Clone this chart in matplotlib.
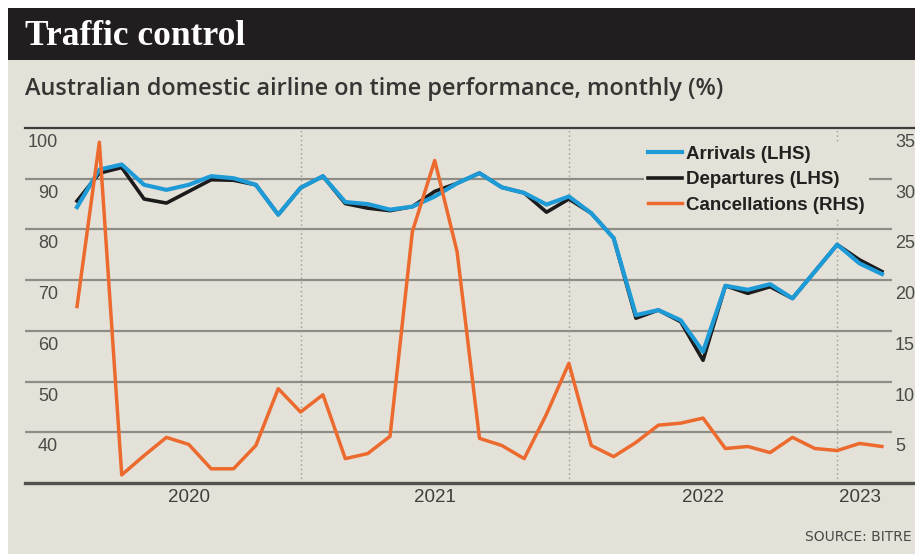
import matplotlib
matplotlib.use("Agg")
import matplotlib.pyplot as plt
import matplotlib.transforms as mtransforms
from matplotlib import font_manager
from matplotlib.patches import Rectangle
from matplotlib.lines import Line2D
import pandas as pd

# ---- data -------------------------------------------------------------
months = [p.strftime("%Y-%m") for p in pd.period_range("2020-03", "2023-03", freq="M")]

arrivals = [84.4, 91.8, 92.8, 88.8, 87.8, 88.8, 90.5, 90.1, 88.8, 82.9,
            88.2, 90.5, 85.4, 85.0, 83.9, 84.5, 86.5, 89.1, 91.1, 88.3,
            87.2, 84.9, 86.5, 83.2, 78.3, 63.1, 64.1, 62.1, 55.9, 68.9,
            68.1, 69.2, 66.4, 71.7, 77.0, 73.3, 71.2]

departures = [85.6, 91.1, 92.2, 86.0, 85.2, 87.5, 89.8, 89.7, 88.8, 82.9,
              88.2, 90.5, 85.1, 84.2, 83.7, 84.5, 87.5, 89.1, 91.1, 88.3,
              87.2, 83.4, 86.0, 83.2, 78.3, 62.5, 64.1, 61.8, 54.2, 68.9,
              67.4, 68.7, 66.4, 71.7, 77.0, 74.0, 71.7]

cancellations = [17.4, 33.6, 0.8, 2.7, 4.5, 3.8, 1.4, 1.4, 3.7, 9.3,
                 7.0, 8.7, 2.4, 2.9, 4.6, 24.8, 31.8, 22.8, 4.4, 3.7,
                 2.4, 6.8, 11.8, 3.7, 2.6, 4.0, 5.7, 5.9, 6.4, 3.4,
                 3.6, 3.0, 4.5, 3.4, 3.2, 3.9, 3.6]

left_ticks = [40, 50, 60, 70, 80, 90, 100]
right_ticks = [5, 10, 15, 20, 25, 30, 35]
series_labels = ["Arrivals (LHS)", "Departures (LHS)", "Cancellations (RHS)"]

title = "Traffic control"
subtitle = "Australian domestic airline on time performance, monthly (%)"
source = "SOURCE: BITRE"

# ---- style ------------------------------------------------------------
W, H = 915, 554
BG = "#e4e1d9"
BAR = "#221e1f"
BLUE = "#1e9bd6"
BLACK = "#1b1b1b"
ORANGE = "#ec6a2d"
GRID = "#8e8c86"
TXT = "#363533"

installed = {f.name for f in font_manager.fontManager.ttflist}
NARROW = "Liberation Sans Narrow" if "Liberation Sans Narrow" in installed else "DejaVu Sans Condensed" \
    if "DejaVu Sans Condensed" in installed else "DejaVu Sans"
SANS = "Liberation Sans"
SERIF = "Liberation Serif"
HEAD = "Open Sans" if "Open Sans" in installed else SANS


def fx(x):
    return x / W


def fy(y):
    return 1 - y / H


fig = plt.figure(figsize=(W / 100, H / 100), dpi=100)
fig.patch.set_facecolor("white")

# panel background and title bar
fig.add_artist(Rectangle((fx(8), 0), 1, fy(8), transform=fig.transFigure,
                         facecolor=BG, edgecolor="none", zorder=0))
fig.add_artist(Rectangle((fx(8), fy(60)), 1, 52 / H, transform=fig.transFigure,
                         facecolor=BAR, edgecolor="none", zorder=1))

fig.text(fx(25), fy(45), title, family=SERIF, weight="bold", fontsize=25.5,
         color="white", va="baseline", ha="left")
sub = fig.text(fx(25), fy(95), subtitle, family=HEAD, weight="semibold", fontsize=15,
               color=TXT, va="baseline", ha="left")

# stretch the subtitle to its column width
fig.canvas.draw()
w = sub.get_window_extent().width
sub.set_fontsize(15 * 702 / w)

fig.text(fx(912), fy(537), source, family=NARROW, fontsize=10,
         color="#4a4947", va="center", ha="right")

# ---- axes -------------------------------------------------------------
ax = fig.add_axes([fx(25), fy(483), (W - 25) / W, (483 - 128) / H])
ax.patch.set_visible(False)
ax.set_ylim(30, 100)
n = len(months)
x = list(range(n))
ax.set_xlim(-2.326, 37.48)
ax.set_xticks([])
ax.set_yticks([])
for s in ("left", "right"):
    ax.spines[s].set_visible(False)
ax.spines["top"].set_color("#3d3c3a")
ax.spines["top"].set_linewidth(1.6)
ax.spines["bottom"].set_color("#52514e")
ax.spines["bottom"].set_linewidth(2.4)

# horizontal grid
ytrans = ax.get_yaxis_transform()
for v in left_ticks[:-1]:
    ax.plot([0, 0.974], [v, v], transform=ytrans, color=GRID, lw=1.6,
            solid_capstyle="butt", zorder=1)

# year boundaries
year_starts = [i for i, m in enumerate(months) if m.endswith("-01")]
for i in year_starts:
    ax.axvline(i, color="#9c9a94", lw=1.0, ls=(0, (1, 2.2)), zorder=1)

ax.plot(x, departures, color=BLACK, lw=2.6, zorder=3, solid_joinstyle="round")
ax.plot(x, arrivals, color=BLUE, lw=3.0, zorder=4, solid_joinstyle="round")

ax2 = ax.twinx()
ax2.patch.set_visible(False)
ax2.set_ylim(0, 35)
ax2.set_yticks([])
for s in ax2.spines.values():
    s.set_visible(False)
ax2.plot(x, cancellations, color=ORANGE, lw=2.5, zorder=5, solid_joinstyle="round")

# left axis labels (sit just below their gridlines)
lt = mtransforms.offset_copy(
    mtransforms.blended_transform_factory(fig.transFigure, ax.transData),
    fig=fig, x=0, y=-14.5, units="dots")
for v in left_ticks:
    ax.text(fx(58), v, str(v), transform=lt, ha="right", va="center",
            family=SANS, fontsize=13, color="#4b4a47")

rt = mtransforms.offset_copy(
    mtransforms.blended_transform_factory(fig.transFigure, ax2.transData),
    fig=fig, x=0, y=-14.5, units="dots")
for v in right_ticks:
    ax2.text(fx(895), v, str(v), transform=rt, ha="left", va="center",
             family=SANS, fontsize=13, color="#4b4a47", clip_on=False)

# year labels centred on each year's span of data
bounds = [0] + year_starts + [n - 1]
years = [months[b][:4] for b in bounds[:-1]]
xt = mtransforms.blended_transform_factory(ax.transData, fig.transFigure)
for (a, b), yr in zip(zip(bounds[:-1], bounds[1:]), years):
    ax.text((a + b) / 2, fy(498), yr, transform=xt, ha="center", va="center",
            family=SANS, fontsize=13.5, color="#3f3e3b")

handles = [Line2D([], [], color=BLUE, lw=3.0),
           Line2D([], [], color=BLACK, lw=2.6),
           Line2D([], [], color=ORANGE, lw=2.5)]
leg = ax2.legend(handles, series_labels, loc="upper left",
                 bbox_to_anchor=(fx(644), fy(142)), bbox_transform=fig.transFigure,
                 frameon=True, facecolor=BG, edgecolor="none", framealpha=1,
                 prop={"family": SANS, "weight": "bold", "size": 13.5},
                 handlelength=1.85, handletextpad=0.2, labelspacing=0.45,
                 borderpad=0.2, borderaxespad=0)
for t in leg.get_texts():
    t.set_color("#222120")
leg.set_zorder(10)

fig.savefig("out.png", dpi=100, facecolor=fig.get_facecolor())
